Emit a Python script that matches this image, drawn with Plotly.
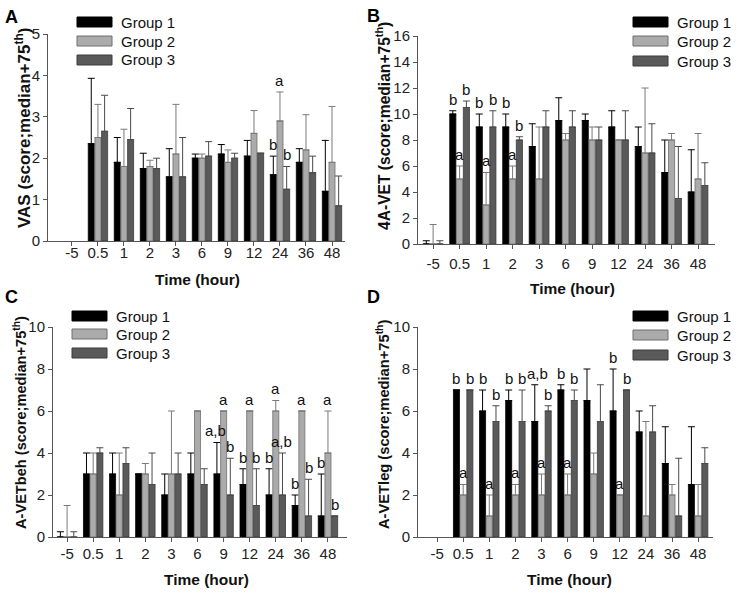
import plotly.graph_objects as go

W, H = 739, 602

times = ["-5", "0.5", "1", "2", "3", "6", "9", "12", "24", "36", "48"]
group_names = ["Group 1", "Group 2", "Group 3"]

# Panel A: VAS (median, 75th percentile)
A_g1 = [None, 2.35, 1.9, 1.75, 1.55, 2.0, 2.1, 2.05, 1.6, 1.9, 1.2]
A_g1_hi = [None, 3.93, 2.5, 2.12, 2.23, 2.1, 2.33, 2.43, 2.05, 2.23, 2.43]
A_g2 = [None, 2.5, 1.8, 1.8, 2.1, 2.0, 1.9, 2.6, 2.9, 2.2, 1.9]
A_g2_hi = [None, 3.3, 2.7, 1.95, 3.3, 2.1, 2.2, 3.15, 3.6, 3.05, 3.25]
A_g3 = [None, 2.65, 2.45, 1.75, 1.55, 2.05, 2.0, 2.12, 1.25, 1.65, 0.85]
A_g3_hi = [None, 3.52, 3.2, 2.0, 2.5, 2.4, 2.12, None, 1.8, 2.05, 1.57]
A_marks = [("24", 0, "b"), ("24", 1, "a"), ("24", 2, "b")]

# Panel B: 4A-VET
B_g1 = [0, 10, 9, 9, 7.5, 9.5, 9.5, 9, 7.5, 5.5, 4]
B_g1_hi = [0.25, 10.25, 10, 10, 9.25, 11.25, 10, 10.25, 9, 8, 7.25]
B_g2 = [0, 5, 3, 5, 5, 8, 8, 8, 7, 8, 5]
B_g2_hi = [1.5, 6, 5.5, 6, 9, 8.5, 9, None, 12, 8.5, 8.5]
B_g3 = [0, 10.5, 9, 8, 9, 9, 8, 8, 7, 3.5, 4.5]
B_g3_hi = [0.25, 11, 10.25, 8.25, 10.25, 10.25, 9, 10.25, 9.25, 7.5, 6.25]
B_marks = [("0.5", 0, "b"), ("0.5", 1, "a"), ("0.5", 2, "b"),
           ("1", 0, "b"), ("1", 1, "a"), ("1", 2, "b"),
           ("2", 0, "b"), ("2", 1, "a"), ("2", 2, "b")]

# Panel C: A-VETbeh
C_g1 = [0, 3, 3, 3, 2, 3, 3, 2.5, 2, 1.5, 1]
C_g1_hi = [0.25, 4, 4, None, 3, 4, 4.5, 3.25, 3.25, 2, 3]
C_g2 = [0, 3, 2, 3, 3, 6, 6, 6, 6, 6, 4]
C_g2_hi = [1.5, 4, 4, 3.5, 6, None, None, None, 6.5, None, 6]
C_g3 = [0, 4, 3.5, 2.5, 3, 2.5, 2, 1.5, 2, 1, 1]
C_g3_hi = [0.25, 4.25, 4.25, 4, 4, 3.25, 3.75, 3.25, 4, 2.75, None]
C_marks = [("9", 0, "a,b"), ("9", 1, "a"), ("9", 2, "b"),
           ("12", 0, "b"), ("12", 1, "a"), ("12", 2, "b"),
           ("24", 0, "b"), ("24", 1, "a"), ("24", 2, "a,b"),
           ("36", 0, "b"), ("36", 1, "a"), ("36", 2, "b"),
           ("48", 0, "b"), ("48", 1, "a"), ("48", 2, "b")]

# Panel D: A-VETleg
D_g1 = [None, 7, 6, 6.5, 5.5, 7, 6.5, 6, 5, 3.5, 2.5]
D_g1_hi = [None, None, 7, 7, 7.25, 7.25, 8, 8, 6, 5.25, 5.25]
D_g2 = [None, 2, 1, 2, 2, 2, 3, 2, 1, 2, 1]
D_g2_hi = [None, 2.5, 2, 2.5, 3, 3, 4, None, 5.5, 2.5, 2.5]
D_g3 = [None, 7, 5.5, 5.5, 6, 6.5, 5.5, 7, 5, 1, 3.5]
D_g3_hi = [None, None, 6.25, 7, 6.25, 7, 7.25, None, 6.25, 3.75, 4.25]
D_marks = [("0.5", 0, "b"), ("0.5", 1, "a"), ("0.5", 2, "b"),
           ("1", 0, "b"), ("1", 1, "a"), ("1", 2, "b"),
           ("2", 0, "b"), ("2", 1, "a"), ("2", 2, "b"),
           ("3", 0, "a,b"), ("3", 1, "a"), ("3", 2, "b"),
           ("6", 0, "b"), ("6", 1, "a"), ("6", 2, "b"),
           ("12", 0, "b"), ("12", 1, "a"), ("12", 2, "b")]

# ---------------- styling / layout ----------------
FONT = "Liberation Sans, Arial, sans-serif"
fills = ["#000000", "#ababab", "#5a5a5a"]
outlines = ["#000000", "#6e6e6e", "#3a3a3a"]
err_cols = ["#000000", "#7a7a7a", "#4a4a4a"]
BARGAP = 0.23
SLOT = (1 - BARGAP) / 3

panels = [
    dict(letter="A", ytitle="VAS (score;median+75<sup>th</sup>)", tsize=17,
         series=[(A_g1, A_g1_hi), (A_g2, A_g2_hi), (A_g3, A_g3_hi)], marks=A_marks,
         xpx=(48, 345), ypx=(34, 241), yrange=(0, 5), dtick=1, xrange=(-0.92, 10.5),
         standoff=-6, letter_pos=(11, 17), ytitle_pos=(23, 128), xtitle_pos=(197, 279),
         legend_box=(77, 112), legend_rows=(22, 41, 60), pair_shift=0),
    dict(letter="B", ytitle="4A-VET (score;median+75<sup>th</sup>)", tsize=15.6,
         series=[(B_g1, B_g1_hi), (B_g2, B_g2_hi), (B_g3, B_g3_hi)], marks=B_marks,
         xpx=(418, 715), ypx=(36, 244), yrange=(0, 16), dtick=2, xrange=(-0.57, 10.64),
         standoff=2, letter_pos=(373, 16), ytitle_pos=(383, 126), xtitle_pos=(572, 288),
         legend_box=(633, 668), legend_rows=(22, 41, 61), pair_shift=0),
    dict(letter="C", ytitle="A-VETbeh (score;median+75<sup>th</sup>)", tsize=14.6,
         series=[(C_g1, C_g1_hi), (C_g2, C_g2_hi), (C_g3, C_g3_hi)], marks=C_marks,
         xpx=(53, 347), ypx=(327, 537), yrange=(0, 10), dtick=2, xrange=(-0.54, 10.73),
         standoff=-1, letter_pos=(11, 297), ytitle_pos=(20, 423), xtitle_pos=(206, 579),
         legend_box=(72, 107), legend_rows=(316, 334, 353), pair_shift=-1),
    dict(letter="D", ytitle="A-VETleg (score;median+75<sup>th</sup>)", tsize=14.7,
         series=[(D_g1, D_g1_hi), (D_g2, D_g2_hi), (D_g3, D_g3_hi)], marks=D_marks,
         xpx=(418, 713), ypx=(327, 537), yrange=(0, 10), dtick=2, xrange=(-0.73, 10.57),
         standoff=-1, letter_pos=(373, 297), ytitle_pos=(383, 425), xtitle_pos=(569, 579),
         legend_box=(633, 668), legend_rows=(316, 335, 355), pair_shift=3),
]


def px_x(v):
    return v / W


def px_y(v):
    return 1 - v / H


fig = go.Figure()
annotations = []
shapes = []
layout_axes = {}

for k, p in enumerate(panels, start=1):
    xa = "x" if k == 1 else f"x{k}"
    ya = "y" if k == 1 else f"y{k}"
    for g, (vals, his) in enumerate(p["series"]):
        err_plus = [None if (v is None or h is None) else round(h - v, 4) for v, h in zip(vals, his)]
        fig.add_trace(go.Bar(
            x=times, y=vals, name=group_names[g], xaxis=xa, yaxis=ya,
            offsetgroup=str(g), showlegend=False,
            marker=dict(color=fills[g], line=dict(color=outlines[g], width=0.8)),
            error_y=dict(type="data", symmetric=False, array=err_plus,
                         arrayminus=[0] * len(vals), color=err_cols[g],
                         thickness=1, width=3.5),
        ))
    # significance letters
    for t, g, txt in p["marks"]:
        i = times.index(t)
        vals, his = p["series"][g]
        top = his[i] if his[i] is not None else vals[i]
        annotations.append(dict(
            x=i + (g - 1) * SLOT, y=top, xref=xa, yref=ya, text=txt, showarrow=False,
            xanchor="center", yanchor="bottom", yshift=1,
            xshift=p["pair_shift"] if "," in txt else 0,
            font=dict(size=15, color="#111", family=FONT)))
    # axes
    sfx = "" if k == 1 else str(k)
    layout_axes["xaxis" + sfx] = dict(
        domain=[px_x(p["xpx"][0]), px_x(p["xpx"][1])], anchor=ya, type="category",
        categoryorder="array", categoryarray=times, range=list(p["xrange"]),
        showline=True, linecolor="#555", linewidth=1, ticks="outside", ticklen=4,
        tickcolor="#555", tickfont=dict(size=15, color="#222", family=FONT),
        ticklabelstandoff=p["standoff"], showgrid=False, zeroline=False,
        automargin=False, fixedrange=True)
    layout_axes["yaxis" + sfx] = dict(
        domain=[px_y(p["ypx"][1]), px_y(p["ypx"][0])], anchor=xa, range=list(p["yrange"]),
        dtick=p["dtick"], showline=True, linecolor="#555", linewidth=1, ticks="outside",
        ticklen=4, tickcolor="#555", tickfont=dict(size=15, color="#222", family=FONT),
        showgrid=False, zeroline=False, automargin=False, fixedrange=True)
    # panel letter
    annotations.append(dict(
        x=px_x(p["letter_pos"][0]), y=px_y(p["letter_pos"][1]), xref="paper", yref="paper",
        text=f"<b>{p['letter']}</b>", showarrow=False, xanchor="center", yanchor="middle",
        font=dict(size=18, color="#000", family=FONT)))
    # axis titles
    annotations.append(dict(
        x=px_x(p["ytitle_pos"][0]), y=px_y(p["ytitle_pos"][1]), xref="paper", yref="paper",
        text=f"<b>{p['ytitle']}</b>", showarrow=False, textangle=-90,
        xanchor="center", yanchor="middle",
        font=dict(size=p["tsize"], color="#111", family=FONT)))
    annotations.append(dict(
        x=px_x(p["xtitle_pos"][0]), y=px_y(p["xtitle_pos"][1]), xref="paper", yref="paper",
        text="<b>Time (hour)</b>", showarrow=False, xanchor="center", yanchor="middle",
        font=dict(size=15.5, color="#111", family=FONT)))
    # legend
    bx0, bx1 = p["legend_box"]
    for g, cy in enumerate(p["legend_rows"]):
        shapes.append(dict(
            type="rect", xref="paper", yref="paper",
            x0=px_x(bx0), x1=px_x(bx1), y0=px_y(cy + 5), y1=px_y(cy - 5),
            fillcolor=fills[g], line=dict(color=outlines[g], width=1)))
        annotations.append(dict(
            x=px_x(bx1 + 7), y=px_y(cy), xref="paper", yref="paper",
            text=group_names[g], showarrow=False, xanchor="left", yanchor="middle",
            font=dict(size=15, color="#111", family=FONT)))

fig.update_layout(
    template="none",
    width=W, height=H, margin=dict(l=0, r=0, t=0, b=0, pad=0, autoexpand=False),
    paper_bgcolor="white", plot_bgcolor="white",
    barmode="group", bargap=BARGAP, bargroupgap=0.1,
    font=dict(family=FONT, color="#222"),
    annotations=annotations, shapes=shapes, showlegend=False,
    **layout_axes,
)

fig.write_html(
    "out.html",
    config={"displayModeBar": False},
    post_script="document.body.style.margin='0';document.body.style.overflow='hidden';",
)
